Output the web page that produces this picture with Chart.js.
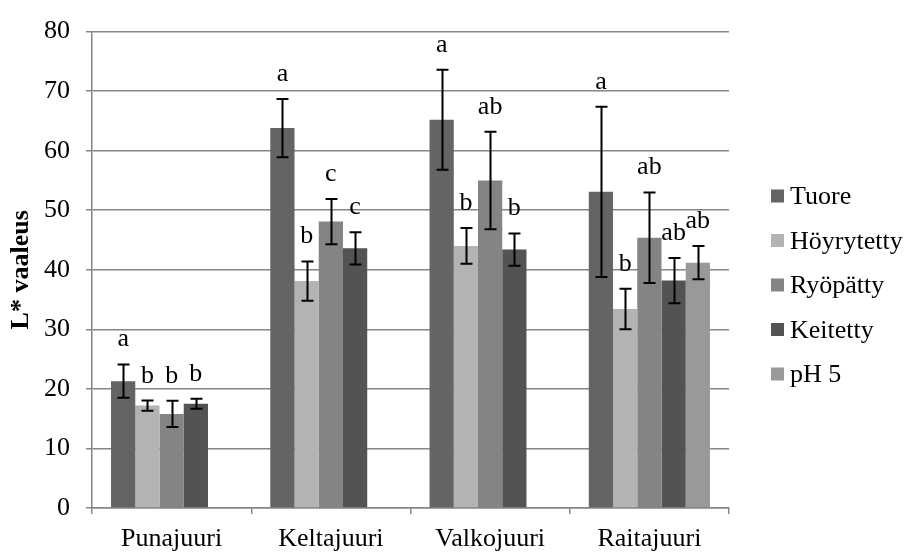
<!DOCTYPE html>
<html>
<head>
<meta charset="utf-8">
<script src="https://cdn.jsdelivr.net/npm/chart.js@4"></script>
<style>
  html, body { margin: 0; padding: 0; background: #ffffff; }
  #wrap { width: 905px; height: 554px; }
</style>
</head>
<body>
<div id="wrap"><canvas id="c" width="905" height="554"></canvas></div>
<script>
// Root vegetables and treatments
const categories = ['Punajuuri', 'Keltajuuri', 'Valkojuuri', 'Raitajuuri'];
const seriesNames = ['Tuore', 'Höyrytetty', 'Ryöpätty', 'Keitetty', 'pH 5'];

// Mean L* values
const tuore      = [21.3, 63.8, 65.2, 53.1];
const hoyrytetty = [17.2, 38.1, 44.0, 33.4];
const ryopatty   = [15.8, 48.1, 55.0, 45.4];
const keitetty   = [17.5, 43.6, 43.4, 38.2];
const ph5        = [null, null, null, 41.2];

// Standard deviations
const tuoreSd      = [2.8, 4.9, 8.4, 14.3];
const hoyrytettySd = [0.85, 3.3, 3.0, 3.4];
const ryopattySd   = [2.2, 3.8, 8.2, 7.6];
const keitettySd   = [0.85, 2.7, 2.7, 3.8];
const ph5Sd        = [null, null, null, 2.8];

// Significance letters
const tuoreSig      = ['a', 'a', 'a', 'a'];
const hoyrytettySig = ['b', 'b', 'b', 'b'];
const ryopattySig   = ['b', 'c', 'ab', 'ab'];
const keitettySig   = ['b', 'c', 'b', 'ab'];
const ph5Sig        = [null, null, null, 'ab'];

// Y axis range
const yMin = 0, yMax = 80, yStep = 10;

const FONT = "'Liberation Serif', 'Times New Roman', serif";
const GRID = '#868686';
const colors = ['#646464', '#b3b3b3', '#848484', '#535353', '#999999'];

const values = [tuore, hoyrytetty, ryopatty, keitetty, ph5];
const sds = [tuoreSd, hoyrytettySd, ryopattySd, keitettySd, ph5Sd];
const sigs = [tuoreSig, hoyrytettySig, ryopattySig, keitettySig, ph5Sig];

const datasets = seriesNames.map((name, i) => ({
  label: name,
  data: values[i],
  sd: sds[i],
  sig: sigs[i],
  backgroundColor: colors[i],
  borderWidth: 0,
  categoryPercentage: 0.761,
  barPercentage: 1.0
}));

// Error bars and letter labels above each bar
const barMarks = {
  id: 'barMarks',
  afterDatasetsDraw(chart) {
    const { ctx, scales: { y } } = chart;
    ctx.save();
    chart.data.datasets.forEach((ds, i) => {
      const meta = chart.getDatasetMeta(i);
      meta.data.forEach((bar, j) => {
        const v = ds.data[j];
        if (v == null) return;
        const e = ds.sd[j];
        const x = Math.round(bar.x) + 0.5;
        const top = y.getPixelForValue(v + e);
        const bot = y.getPixelForValue(v - e);
        ctx.strokeStyle = '#000';
        ctx.lineWidth = 2;
        ctx.beginPath();
        ctx.moveTo(x, top); ctx.lineTo(x, bot);
        ctx.moveTo(x - 6, top); ctx.lineTo(x + 6, top);
        ctx.moveTo(x - 6, bot); ctx.lineTo(x + 6, bot);
        ctx.stroke();
        const s = ds.sig[j];
        if (s) {
          ctx.fillStyle = '#000';
          ctx.font = '26px ' + FONT;
          ctx.textAlign = 'center';
          ctx.textBaseline = 'alphabetic';
          ctx.fillText(s, bar.x, top - 18);
        }
      });
    });
    ctx.restore();
  }
};

// Legend on the right
const sideLegend = {
  id: 'sideLegend',
  afterDraw(chart) {
    const { ctx } = chart;
    ctx.save();
    ctx.font = '26px ' + FONT;
    ctx.textAlign = 'left';
    ctx.textBaseline = 'alphabetic';
    chart.data.datasets.forEach((ds, i) => {
      const cy = 196 + i * 44.5;
      ctx.fillStyle = ds.backgroundColor;
      ctx.fillRect(771, cy - 6.5, 13, 13);
      ctx.fillStyle = '#000';
      ctx.fillText(ds.label, 790, cy + 8);
    });
    ctx.restore();
  }
};

Chart.defaults.font.family = FONT;
Chart.defaults.font.size = 26;
Chart.defaults.color = '#000';

new Chart(document.getElementById('c'), {
  type: 'bar',
  data: { labels: categories, datasets },
  options: {
    responsive: false,
    animation: false,
    layout: { padding: { top: 24, right: 176, bottom: 0, left: 0 } },
    plugins: {
      legend: { display: false },
      tooltip: { enabled: false }
    },
    scales: {
      x: {
        offset: true,
        grid: { display: true, offset: true, drawOnChartArea: false, drawTicks: true, tickLength: 6, color: GRID, lineWidth: 1.5 },
        border: { display: true, color: GRID, width: 1.5 },
        ticks: { padding: 10, color: '#000', font: { size: 26 } },
        afterFit(s) { s.height = 46; }
      },
      y: {
        min: yMin, max: yMax,
        ticks: { stepSize: yStep, padding: 16, color: '#000', font: { size: 26 } },
        grid: { color: GRID, lineWidth: 1.5, tickLength: 6 },
        border: { display: true, color: GRID, width: 1.5 },
        title: { display: true, text: 'L* vaaleus', color: '#000', font: { size: 26, weight: 'bold' }, padding: { top: 6, bottom: 0 } },
        afterFit(s) { s.width = 92; }
      }
    }
  },
  plugins: [barMarks, sideLegend]
});
</script>
</body>
</html>
